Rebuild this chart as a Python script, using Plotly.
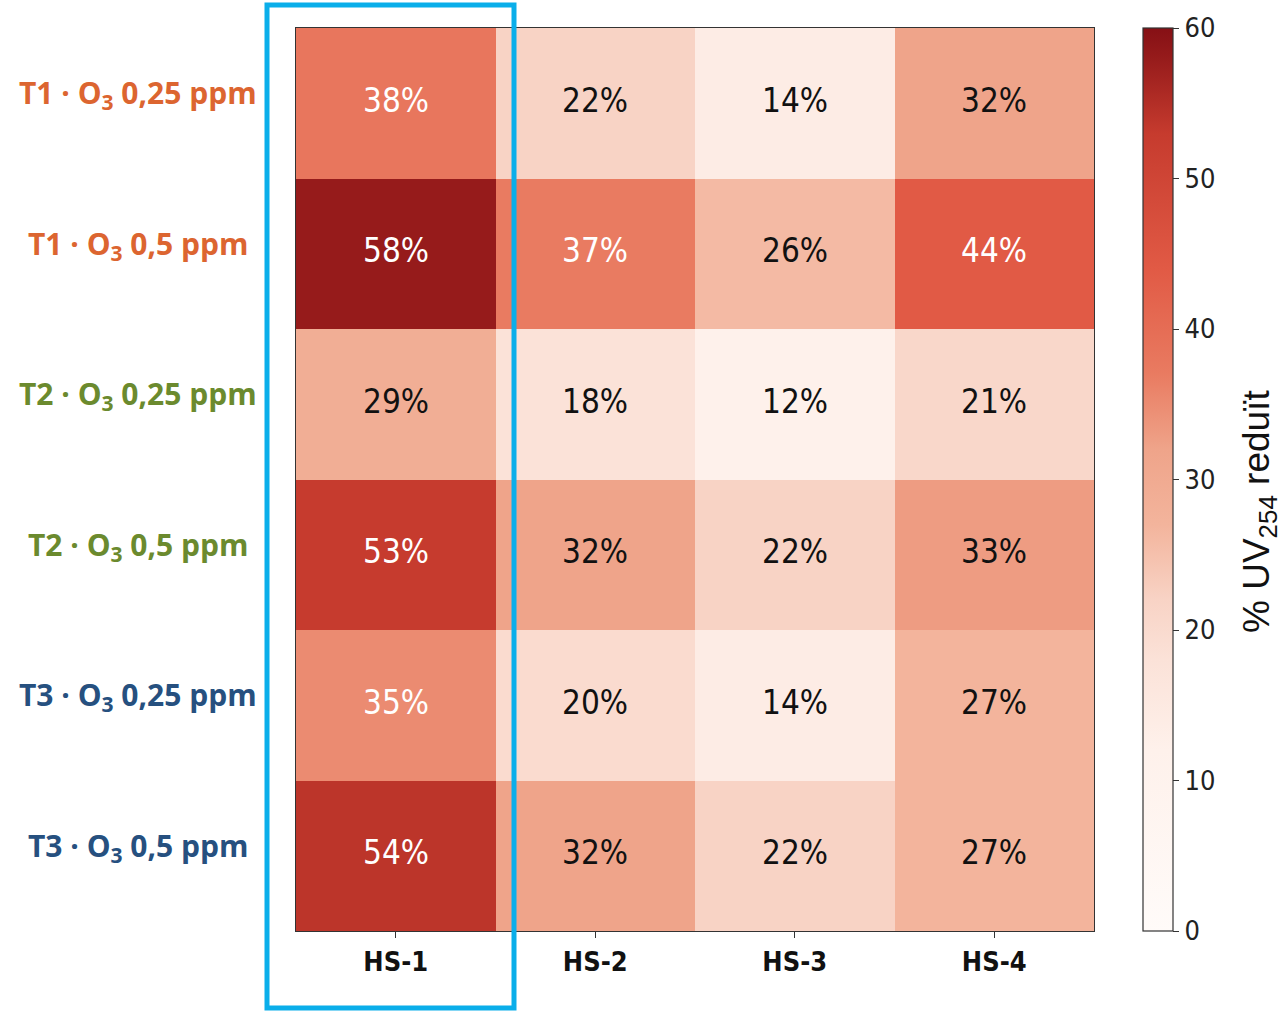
import plotly.graph_objects as go

columns = ["HS-1", "HS-2", "HS-3", "HS-4"]
row_keys = ["T1 0.25", "T1 0.5", "T2 0.25", "T2 0.5", "T3 0.25", "T3 0.5"]
row_labels = [
    "T1 · O<sub>3</sub> 0,25 ppm",
    "T1 · O<sub>3</sub> 0,5 ppm",
    "T2 · O<sub>3</sub> 0,25 ppm",
    "T2 · O<sub>3</sub> 0,5 ppm",
    "T3 · O<sub>3</sub> 0,25 ppm",
    "T3 · O<sub>3</sub> 0,5 ppm",
]
row_colors = ["#DC6530", "#DC6530", "#6B8A2E", "#6B8A2E", "#26507F", "#26507F"]

hs1 = [38, 58, 29, 53, 35, 54]
hs2 = [22, 37, 18, 32, 20, 32]
hs3 = [14, 26, 12, 22, 14, 22]
hs4 = [32, 44, 21, 33, 27, 27]

z = [[a, b, c, d] for a, b, c, d in zip(hs1, hs2, hs3, hs4)]

colorscale = [
    [0.0, "#FFFBF9"],
    [0.2, "#FEF1EB"],
    [0.3, "#FBE2D8"],
    [0.367, "#F8D3C5"],
    [0.45, "#F3B49C"],
    [0.533, "#EFA48A"],
    [0.617, "#E97B61"],
    [0.733, "#E15A45"],
    [0.883, "#C63B2E"],
    [0.967, "#961B1B"],
    [1.0, "#861015"],
]

W, H = 1283, 1011
px = lambda x: x / W
py = lambda y: 1 - y / H

fig = go.Figure()
fig.add_trace(go.Heatmap(
    z=z, x=columns, y=row_keys,
    zmin=0, zmax=60, colorscale=colorscale,
    xgap=0, ygap=0,
    colorbar=dict(
        x=px(1143), xanchor="left", xpad=0,
        y=py(931), yanchor="bottom", ypad=0,
        len=(931 - 28) / H, lenmode="fraction",
        thickness=30, thicknessmode="pixels",
        outlinewidth=1.2, outlinecolor="#333333",
        tickvals=[0, 10, 20, 30, 40, 50, 60],
        ticks="outside", ticklen=6, tickcolor="#333333",
        tickfont=dict(family="DejaVu Sans Condensed, DejaVu Sans", size=27, color="#222222"),
    ),
    hoverinfo="skip",
))

annotations = []
for i, rk in enumerate(row_keys):
    for j, col in enumerate(columns):
        v = z[i][j]
        annotations.append(dict(
            x=col, y=rk, xref="x", yref="y", text=f"{v}%", showarrow=False,
            yshift=3,
            font=dict(family="DejaVu Sans Condensed, DejaVu Sans", size=33,
                      color="white" if v >= 35 else "#111111"),
        ))
    annotations.append(dict(
        x=px(138), xref="paper", xanchor="center", y=rk, yref="y", yshift=9,
        text=f"<b>{row_labels[i]}</b>", showarrow=False,
        font=dict(family="Open Sans, Noto Sans, sans-serif", size=30, color=row_colors[i]),
    ))

annotations.append(dict(
    x=px(1259), xref="paper", xanchor="center", y=py(512), yref="paper", yanchor="middle",
    textangle=-90,
    text="% UV<sub>254</sub> reduït", showarrow=False,
    font=dict(family="Liberation Sans, Arial, sans-serif", size=37, color="#111111"),
))

fig.update_layout(
    width=W, height=H,
    margin=dict(l=0, r=0, t=0, b=0),
    paper_bgcolor="white", plot_bgcolor="white",
    xaxis=dict(domain=[px(296), px(1094)], side="bottom",
               ticks="outside", ticklen=6, tickcolor="#333333",
               tickfont=dict(family="DejaVu Sans Condensed, DejaVu Sans", size=27, color="#111111"),
               tickprefix="<b>", ticksuffix="</b>",
               showline=True, linecolor="#333333", linewidth=1.2, mirror=True,
               showgrid=False, zeroline=False, fixedrange=True),
    yaxis=dict(domain=[py(931), py(28)], autorange="reversed",
               showticklabels=False, ticks="",
               showline=True, linecolor="#333333", linewidth=1.2, mirror=True,
               showgrid=False, zeroline=False, fixedrange=True),
    annotations=annotations,
    shapes=[dict(type="rect", xref="paper", yref="paper",
                 x0=px(267), x1=px(514), y0=py(1008), y1=py(5),
                 line=dict(color="#0AAEEA", width=5), fillcolor="rgba(0,0,0,0)")],
    font=dict(family="DejaVu Sans"),
)

fig.write_html("out.html", config={"displayModeBar": False},
               post_script="document.body.style.margin='0';")
